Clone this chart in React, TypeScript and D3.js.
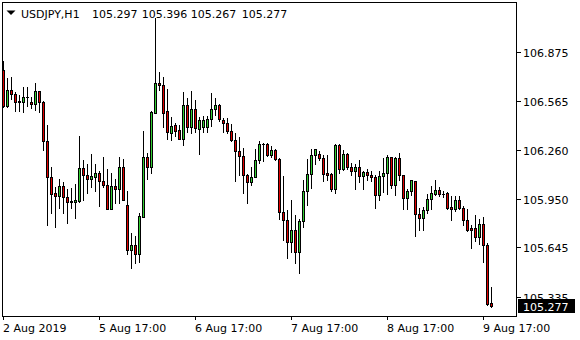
import React from "react";
import * as d3 from "d3";

const symbolTitle = "USDJPY,H1";
const titleValues = ["105.297", "105.396", "105.267", "105.277"];

const opens = [106.761,106.536,106.635,106.610,106.570,106.563,106.595,106.562,106.549,106.631,
106.563,106.318,106.087,105.988,105.969,106.032,105.961,105.939,105.933,105.937,
106.144,106.099,106.078,106.087,106.112,106.062,106.036,105.889,106.032,106.011,
106.150,105.910,105.627,105.658,105.601,105.838,106.213,106.154,106.494,106.680,
106.667,106.503,106.368,106.415,106.385,106.330,106.541,106.406,106.516,106.393,
106.406,106.406,106.456,106.516,106.541,106.448,106.427,106.377,106.320,106.251,
106.219,106.099,106.055,106.087,106.196,106.297,106.297,106.226,106.259,106.200,
105.871,105.816,105.680,105.753,105.613,105.810,105.999,106.106,106.226,106.232,
106.210,106.112,106.106,106.015,106.289,106.137,106.232,106.152,106.125,106.152,
106.093,106.120,106.099,106.087,105.977,106.093,106.112,106.213,106.040,106.209,
106.099,105.958,105.999,106.062,105.854,105.832,105.881,105.948,105.983,106.005,
105.983,105.988,105.900,105.885,105.942,105.895,105.819,105.767,105.767,105.712,
105.792,105.658,105.297];

const highs = [106.820,106.713,106.721,106.625,106.606,106.654,106.654,106.595,106.680,106.633,
106.568,106.417,106.152,106.026,106.076,106.059,106.013,106.017,106.045,106.347,
106.196,106.171,106.234,106.169,106.127,106.213,106.137,106.112,106.078,106.213,
106.200,106.002,105.734,105.717,105.864,106.379,106.242,106.508,107.089,106.753,
106.717,106.642,106.469,106.431,106.415,106.625,106.587,106.629,106.574,106.467,
106.473,106.473,106.620,106.587,106.549,106.461,106.458,106.423,106.366,106.339,
106.272,106.108,106.154,106.267,106.318,106.305,106.303,106.284,106.265,106.209,
106.095,105.879,105.942,105.849,105.824,106.069,106.202,106.263,106.268,106.251,
106.226,106.226,106.114,106.297,106.297,106.259,106.238,106.177,106.174,106.196,
106.128,106.141,106.125,106.099,106.125,106.209,106.226,106.216,106.217,106.240,
106.101,106.011,106.072,106.064,105.893,105.898,105.980,106.032,106.068,106.026,
105.999,105.992,105.969,105.969,105.969,105.908,105.889,105.784,105.851,105.826,
105.835,105.673,105.396];

const lows = [106.533,106.533,106.579,106.503,106.503,106.500,106.536,106.522,106.511,106.500,
106.259,105.786,105.860,105.775,105.891,105.860,105.801,105.891,105.828,105.934,
105.944,105.990,106.028,106.002,105.906,106.028,105.887,105.887,105.927,105.923,
105.941,105.603,105.513,105.545,105.555,105.837,106.074,106.117,106.492,106.637,
106.401,106.331,106.322,106.347,106.326,106.292,106.372,106.368,106.372,106.236,
106.372,106.372,106.410,106.480,106.440,106.372,106.366,106.316,106.062,106.099,
105.991,105.922,106.040,106.086,106.179,106.191,106.224,106.213,106.199,105.827,
105.690,105.578,105.619,105.548,105.485,105.773,105.915,106.019,106.173,106.194,
106.062,106.068,105.999,105.990,106.116,106.136,106.137,106.099,106.015,106.057,
106.015,106.068,106.062,105.893,105.946,105.994,105.983,106.021,105.977,106.068,
105.885,105.889,105.977,105.715,105.753,105.756,105.864,105.889,105.973,105.969,
105.963,105.889,105.819,105.876,105.889,105.788,105.750,105.643,105.683,105.664,
105.553,105.285,105.267];

const closes = [106.536,106.635,106.610,106.563,106.562,106.595,106.593,106.549,106.631,106.563,
106.318,106.087,105.983,105.971,106.032,105.961,105.929,105.929,105.944,106.144,
106.099,106.078,106.093,106.112,106.062,106.036,105.889,106.032,106.011,106.150,
105.944,105.627,105.658,105.601,105.843,106.213,106.150,106.497,106.680,106.667,
106.494,106.371,106.410,106.381,106.330,106.541,106.406,106.516,106.398,106.448,
106.448,106.456,106.516,106.541,106.453,106.427,106.377,106.320,106.251,106.219,
106.099,106.057,106.087,106.196,106.297,106.295,106.226,106.259,106.200,105.871,
105.816,105.680,105.753,105.613,105.811,105.999,106.106,106.226,106.263,106.210,
106.110,106.101,106.015,106.289,106.137,106.232,106.152,106.125,106.152,106.093,
106.120,106.099,106.087,105.977,106.093,106.112,106.213,106.040,106.209,106.099,
105.958,105.999,106.068,105.854,105.832,105.881,105.948,105.986,106.005,105.983,
105.982,105.893,105.889,105.942,105.895,105.819,105.756,105.755,105.712,105.792,
105.658,105.290,105.277];

const priceTicks = [106.875, 106.565, 106.26, 105.95, 105.645, 105.335];
const priceTickLabels = ["106.875", "106.565", "106.260", "105.950", "105.645", "105.335"];
const timeLabelIndex = [0, 24, 48, 72, 96, 120];
const timeLabels = ["2 Aug 2019", "5 Aug 17:00", "6 Aug 17:00", "7 Aug 17:00", "8 Aug 17:00", "9 Aug 17:00"];
const lastPriceLabel = "105.277";

const BULL = "#32CD32";
const BEAR = "#E00000";
const FONT = "'DejaVu Sans', Verdana, sans-serif";

export default function App() {
  const W = 580, H = 340;
  const n = opens.length;
  const x = d3.scaleLinear().domain([0, n - 1]).range([3.5, 3.5 + 4 * (n - 1)]);
  const y = d3.scaleLinear().domain([105.335, 106.875]).range([296.6, 52.3]);
  const ry = (v: number) => Math.round(y(v));

  const candles = d3.range(n).map((i) => {
    const o = opens[i], c = closes[i], h = highs[i], l = lows[i];
    const cx = x(i);
    const top = ry(Math.max(o, c));
    const bot = ry(Math.min(o, c));
    const hy = ry(h);
    const ly = ry(l);
    const bull = c > o;
    return (
      <g key={i}>
        <rect x={cx - 0.5} y={hy} width={1} height={Math.max(1, ly - hy + 1)} fill="#000" />
        {bot - top >= 1 ? (
          <rect x={cx - 1} y={top + 0.5} width={2} height={bot - top} fill={bull ? BULL : BEAR} stroke="#000" strokeWidth={1} />
        ) : (
          <rect x={cx - 1.5} y={top} width={3} height={1} fill="#000" />
        )}
      </g>
    );
  });

  const lastY = ry(closes[n - 1]);

  return (
    <svg width={W} height={H} style={{ position: "absolute", left: 0, top: 0, background: "#fff" }} shapeRendering="crispEdges">
      <rect x={0} y={0} width={W} height={H} fill="#fff" />
      <rect x={2.5} y={2.5} width={514} height={314} fill="#fff" stroke="#000" strokeWidth={1} />
      {candles}
      {priceTicks.map((v, k) => (
        <g key={"pt" + k}>
          <rect x={517} y={ry(v)} width={4} height={1} fill="#000" />
          <text x={523} y={ry(v) + 4.5} fontFamily={FONT} fontSize={11} fill="#000" shapeRendering="auto">
            {priceTickLabels[k]}
          </text>
        </g>
      ))}
      <rect x={518} y={lastY - 7} width={57} height={14} fill="#000" />
      <text x={523} y={lastY + 4.5} fontFamily={FONT} fontSize={11} fill="#fff">{lastPriceLabel}</text>
      {timeLabelIndex.map((idx, k) => (
        <g key={"tl" + k}>
          <rect x={x(idx) - 0.5} y={316} width={1} height={4} fill="#000" />
          <text x={x(idx) - 0.5} y={332} fontFamily={FONT} fontSize={11} fill="#000">{timeLabels[k]}</text>
        </g>
      ))}
      <polygon points="6.5,10.5 15.5,10.5 11,15" fill="#000" shapeRendering="auto" />
      <text x={21} y={17.5} fontFamily={FONT} fontSize={11} fill="#000">{symbolTitle}</text>
      {titleValues.map((t, k) => (
        <text key={"tv" + k} x={[92, 141.7, 190.7, 241.7][k]} y={17.5} fontFamily={FONT} fontSize={11} fill="#000">{t}</text>
      ))}
    </svg>
  );
}
